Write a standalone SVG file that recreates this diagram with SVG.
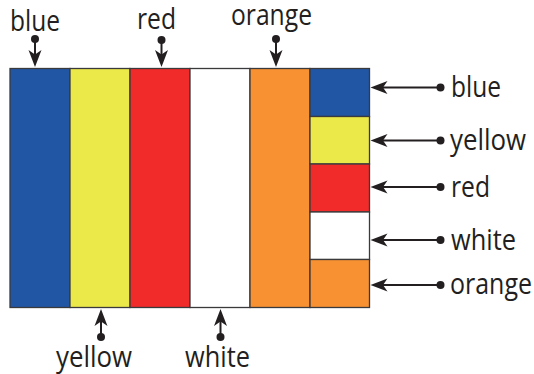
<svg xmlns="http://www.w3.org/2000/svg" width="534" height="374" viewBox="0 0 534 374">
<defs>
<path id="head" d="M0 0L-6.500-17L0 -12.500L6.500-17Z" fill="#231f20"/>
</defs>
<style>
.s{stroke:#3a3a3c;stroke-width:1.300}
.t{font-family:"Open Sans","Noto Sans",sans-serif;font-size:29px;fill:#231f20}
.c{stroke:#231f20;stroke-width:2;fill:none}
.d{fill:#231f20}
</style>
<rect width="534" height="374" fill="#fff"/>
<g id="flag-stripes">
<rect id="stripe-blue" class="s" x="10" y="68.500" width="60" height="239" fill="#2156a5"/>
<rect id="stripe-yellow" class="s" x="70" y="68.500" width="60" height="239" fill="#ebe84a"/>
<rect id="stripe-red" class="s" x="130" y="68.500" width="60" height="239" fill="#f02b2a"/>
<rect id="stripe-white" class="s" x="190" y="68.500" width="60" height="239" fill="#fff"/>
<rect id="stripe-orange" class="s" x="250" y="68.500" width="60" height="239" fill="#f79131"/>
</g>
<g id="flag-blocks">
<rect id="block-blue" class="s" x="310" y="68.500" width="59.500" height="48" fill="#2156a5"/>
<rect id="block-yellow" class="s" x="310" y="116.500" width="59.500" height="47.500" fill="#ebe84a"/>
<rect id="block-red" class="s" x="310" y="164" width="59.500" height="48" fill="#f02b2a"/>
<rect id="block-white" class="s" x="310" y="212" width="59.500" height="47.500" fill="#fff"/>
<rect id="block-orange" class="s" x="310" y="259.500" width="59.500" height="48" fill="#f79131"/>
</g>
<g id="connectors">
<g><line class="c" x1="35" y1="39" x2="35" y2="58"/><circle class="d" cx="35" cy="39" r="4"/><use href="#head" transform="translate(35 67)"/></g>
<g><line class="c" x1="161.500" y1="40" x2="161.500" y2="58"/><circle class="d" cx="161.500" cy="40" r="4"/><use href="#head" transform="translate(161.500 67)"/></g>
<g><line class="c" x1="276" y1="39" x2="276" y2="58"/><circle class="d" cx="276" cy="39" r="4"/><use href="#head" transform="translate(276 67)"/></g>
<g><line class="c" x1="101" y1="337" x2="101" y2="318"/><circle class="d" cx="101" cy="337" r="4"/><use href="#head" transform="translate(101 309) rotate(180)"/></g>
<g><line class="c" x1="220.500" y1="337" x2="220.500" y2="318"/><circle class="d" cx="220.500" cy="337" r="4"/><use href="#head" transform="translate(220.500 309) rotate(180)"/></g>
<g><line class="c" x1="440.500" y1="87.500" x2="380" y2="87.500"/><circle class="d" cx="440.500" cy="87.500" r="4"/><use href="#head" transform="translate(370.500 87.500) rotate(90)"/></g>
<g><line class="c" x1="440.500" y1="140.500" x2="380" y2="140.500"/><circle class="d" cx="440.500" cy="140.500" r="4"/><use href="#head" transform="translate(370.500 140.500) rotate(90)"/></g>
<g><line class="c" x1="440.500" y1="187" x2="380" y2="187"/><circle class="d" cx="440.500" cy="187" r="4"/><use href="#head" transform="translate(370.500 187) rotate(90)"/></g>
<g><line class="c" x1="440.500" y1="240" x2="380" y2="240"/><circle class="d" cx="440.500" cy="240" r="4"/><use href="#head" transform="translate(370.500 240) rotate(90)"/></g>
<g><line class="c" x1="440.500" y1="285" x2="380" y2="285"/><circle class="d" cx="440.500" cy="285" r="4"/><use href="#head" transform="translate(370.500 285) rotate(90)"/></g>
</g>
<g id="labels">
<text class="t" x="10" y="31" textLength="50" lengthAdjust="spacingAndGlyphs">blue</text>
<text class="t" x="137" y="29" textLength="39" lengthAdjust="spacingAndGlyphs">red</text>
<text class="t" x="231" y="25" textLength="81" lengthAdjust="spacingAndGlyphs">orange</text>
<text class="t" x="56" y="367" textLength="76" lengthAdjust="spacingAndGlyphs">yellow</text>
<text class="t" x="185" y="367" textLength="65" lengthAdjust="spacingAndGlyphs">white</text>
<text class="t" x="451" y="97" textLength="50" lengthAdjust="spacingAndGlyphs">blue</text>
<text class="t" x="450" y="150" textLength="76" lengthAdjust="spacingAndGlyphs">yellow</text>
<text class="t" x="451" y="197" textLength="39" lengthAdjust="spacingAndGlyphs">red</text>
<text class="t" x="451" y="250" textLength="65" lengthAdjust="spacingAndGlyphs">white</text>
<text class="t" x="450" y="294" textLength="82" lengthAdjust="spacingAndGlyphs">orange</text>
</g>
</svg>
